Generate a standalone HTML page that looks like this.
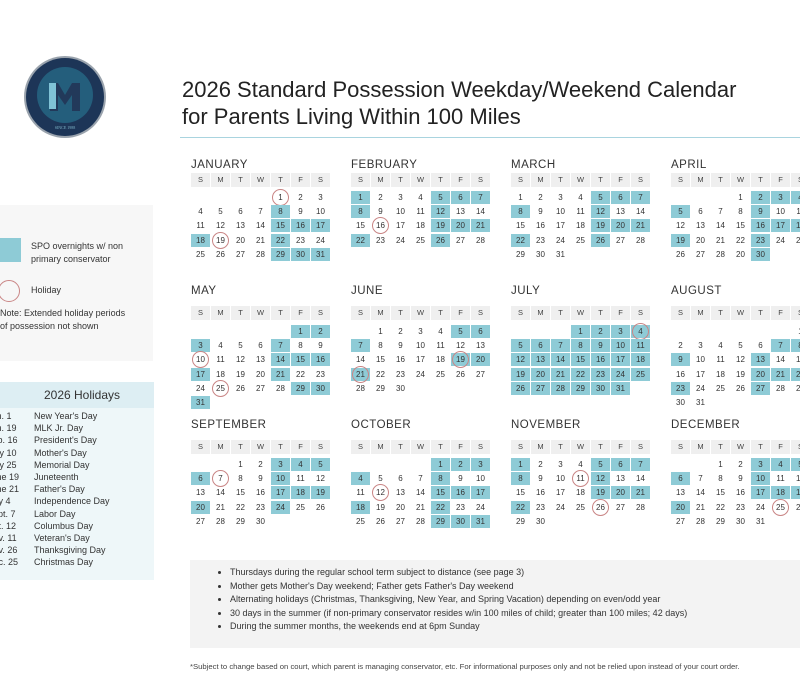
<!DOCTYPE html>
<html><head><meta charset="utf-8">
<style>
body{margin:0;width:800px;height:700px;overflow:hidden;background:#fff;font-family:"Liberation Sans",sans-serif;color:#333;position:relative}
.abs{position:absolute}
.mt{position:absolute;font-size:11.5px;letter-spacing:0.5px;color:#333}
.hd{position:absolute;width:19px;height:14px;background:#efefef;font-size:7.5px;text-align:center;line-height:14px;color:#444}
.dc{position:absolute;width:19px;height:13px;font-size:8px;text-align:center;line-height:13px;color:#333}
.sh{background:#8ecbd6}
.ci{position:absolute;width:15px;height:15px;border:1px solid #c98585;border-radius:50%}
.hl{position:absolute;font-size:9px;color:#333;white-space:nowrap}
</style></head><body>
<svg class="abs" style="left:23px;top:55px" width="84" height="84" viewBox="0 0 84 84">
<circle cx="42" cy="42" r="41" fill="#9aa3ad"/><circle cx="42" cy="42" r="39" fill="#1d3557"/>
<circle cx="42" cy="40" r="28" fill="#2a7f9a" opacity="0.55"/>
<path d="M27 28h8l7 12 7-12h8v28h-8V40l-7 10-7-10v16h-8z" fill="#22395a"/>
<rect x="26" y="28" width="7" height="26" fill="#7fc3d6"/>
<text x="42" y="74" font-size="4" fill="#7fb5c8" text-anchor="middle" font-family="Liberation Serif">SINCE 1988</text>
</svg>
<div class="abs" style="left:182px;top:76px;font-size:22px;line-height:27px;color:#222">2026 Standard Possession Weekday/Weekend Calendar<br>for Parents Living Within 100 Miles</div>
<div class="abs" style="left:180px;top:137px;width:620px;height:1px;background:#a9d4df"></div>

<div class="abs" style="left:0;top:205px;width:153px;height:156px;background:#f7f7f7"></div>
<div class="abs" style="left:0;top:238px;width:21px;height:24px;background:#8ecbd6"></div>
<div class="hl" style="left:31px;top:240px;line-height:13px">SPO overnights w/ non<br>primary conservator</div>
<div class="abs" style="left:-2px;top:280px;width:20px;height:20px;border:1px solid #c98585;border-radius:50%"></div>
<div class="hl" style="left:31px;top:285px">Holiday</div>
<div class="hl" style="left:0px;top:307px;line-height:13px">Note: Extended holiday periods<br>of possession not shown</div>

<div class="abs" style="left:0;top:382px;width:154px;height:198px;background:#eef7f9"></div>
<div class="abs" style="left:0;top:382px;width:154px;height:26px;background:#ddeef3;font-size:12px;line-height:26px;text-align:center;padding-left:10px;box-sizing:border-box">2026 Holidays</div>
<div id="hol"></div>

<div class="abs" style="left:190px;top:560px;width:610px;height:88px;background:#f3f3f3"></div>
<ul class="abs" style="left:190px;top:566px;margin:0;padding-left:40px;font-size:9px;line-height:13.5px;color:#333">
<li>Thursdays during the regular school term subject to distance (see page 3)</li>
<li>Mother gets Mother's Day weekend; Father gets Father's Day weekend</li>
<li>Alternating holidays (Christmas, Thanksgiving, New Year, and Spring Vacation) depending on even/odd year</li>
<li>30 days in the summer (if non-primary conservator resides w/in 100 miles of child; greater than 100 miles; 42 days)</li>
<li>During the summer months, the weekends end at 6pm Sunday</li>
</ul>
<div class="abs" style="left:190px;top:662px;font-size:7.7px;color:#444;white-space:nowrap">*Subject to change based on court, which parent is managing conservator, etc. For informational purposes only and not be relied upon instead of your court order.</div>
<div id="cal"></div>
<script>
const monthNames=["JANUARY","FEBRUARY","MARCH","APRIL","MAY","JUNE","JULY","AUGUST","SEPTEMBER","OCTOBER","NOVEMBER","DECEMBER"];
const startDays=[4,0,0,3,5,1,3,6,2,4,0,2];
const monthLens=[31,28,31,30,31,30,31,31,30,31,30,31];
const shaded=[[8,15,16,17,18,22,29,30,31],[1,5,6,7,8,12,19,20,21,22,26],[5,6,7,8,12,19,20,21,22,26],[2,3,4,5,9,16,17,18,19,23,30],[1,2,3,7,14,15,16,17,21,29,30,31],[5,6,7,19,20,21],[1,2,3,4,5,6,7,8,9,10,11,12,13,14,15,16,17,18,19,20,21,22,23,24,25,26,27,28,29,30,31],[7,8,9,13,20,21,22,23,27],[3,4,5,6,10,17,18,19,20,24],[1,2,3,4,8,15,16,17,18,22,29,30,31],[1,5,6,7,8,12,19,20,21,22],[3,4,5,6,10,17,18,19,20]];
const circled=[[1,19],[16],[],[],[10,25],[19,21],[4],[],[7],[12],[11,26],[25]];
const dayHeads=["S","M","T","W","T","F","S"];
const holDates=["Jan. 1","Jan. 19","Feb. 16","May 10","May 25","June 19","June 21","July 4","Sept. 7","Oct. 12","Nov. 11","Nov. 26","Dec. 25"];
const holNames=["New Year's Day","MLK Jr. Day","President's Day","Mother's Day","Memorial Day","Juneteenth","Father's Day","Independence Day","Labor Day","Columbus Day","Veteran's Day","Thanksgiving Day","Christmas Day"];
const rowLayout=[{t:159,h:173,d:191},{t:285,h:306,d:325},{t:419,h:440,d:458}];
const cal=document.getElementById('cal');
function mk(cls,x,y,txt){const e=document.createElement('div');e.className=cls;e.style.left=x+'px';e.style.top=y+'px';if(txt!==undefined)e.textContent=txt;cal.appendChild(e);return e;}
for(let m=0;m<12;m++){
  const L=rowLayout[Math.floor(m/4)],x0=191+(m%4)*160;
  const t=mk('mt',x0,L.t,monthNames[m]);
  
  
  for(let i=0;i<7;i++){const h=mk('hd',x0+i*20,L.h,dayHeads[i]);
    
    }
  for(let d=1;d<=monthLens[m];d++){
    const idx=startDays[m]+d-1,c=idx%7,r=Math.floor(idx/7);
    const x=x0+c*20,y=L.d+r*14.2;
    const label=(m===3&&d===29)?"20":String(d);
    const e=mk('dc'+(shaded[m].includes(d)?' sh':''),x,y,label);
    
    
    if(circled[m].includes(d)){const ci=mk('ci',x+1,y-2);
      
      }
  }
}
const hol=document.getElementById('hol');
for(let i=0;i<holDates.length;i++){
  const y=411+i*12.2;
  const a=document.createElement('div');a.className='hl';a.style.left='-13px';a.style.top=y+'px';a.textContent=holDates[i];
  
  
  hol.appendChild(a);
  const b=document.createElement('div');b.className='hl';b.style.left='34px';b.style.top=y+'px';b.textContent=holNames[i];
  
  
  hol.appendChild(b);
}
</script>
</body></html>
